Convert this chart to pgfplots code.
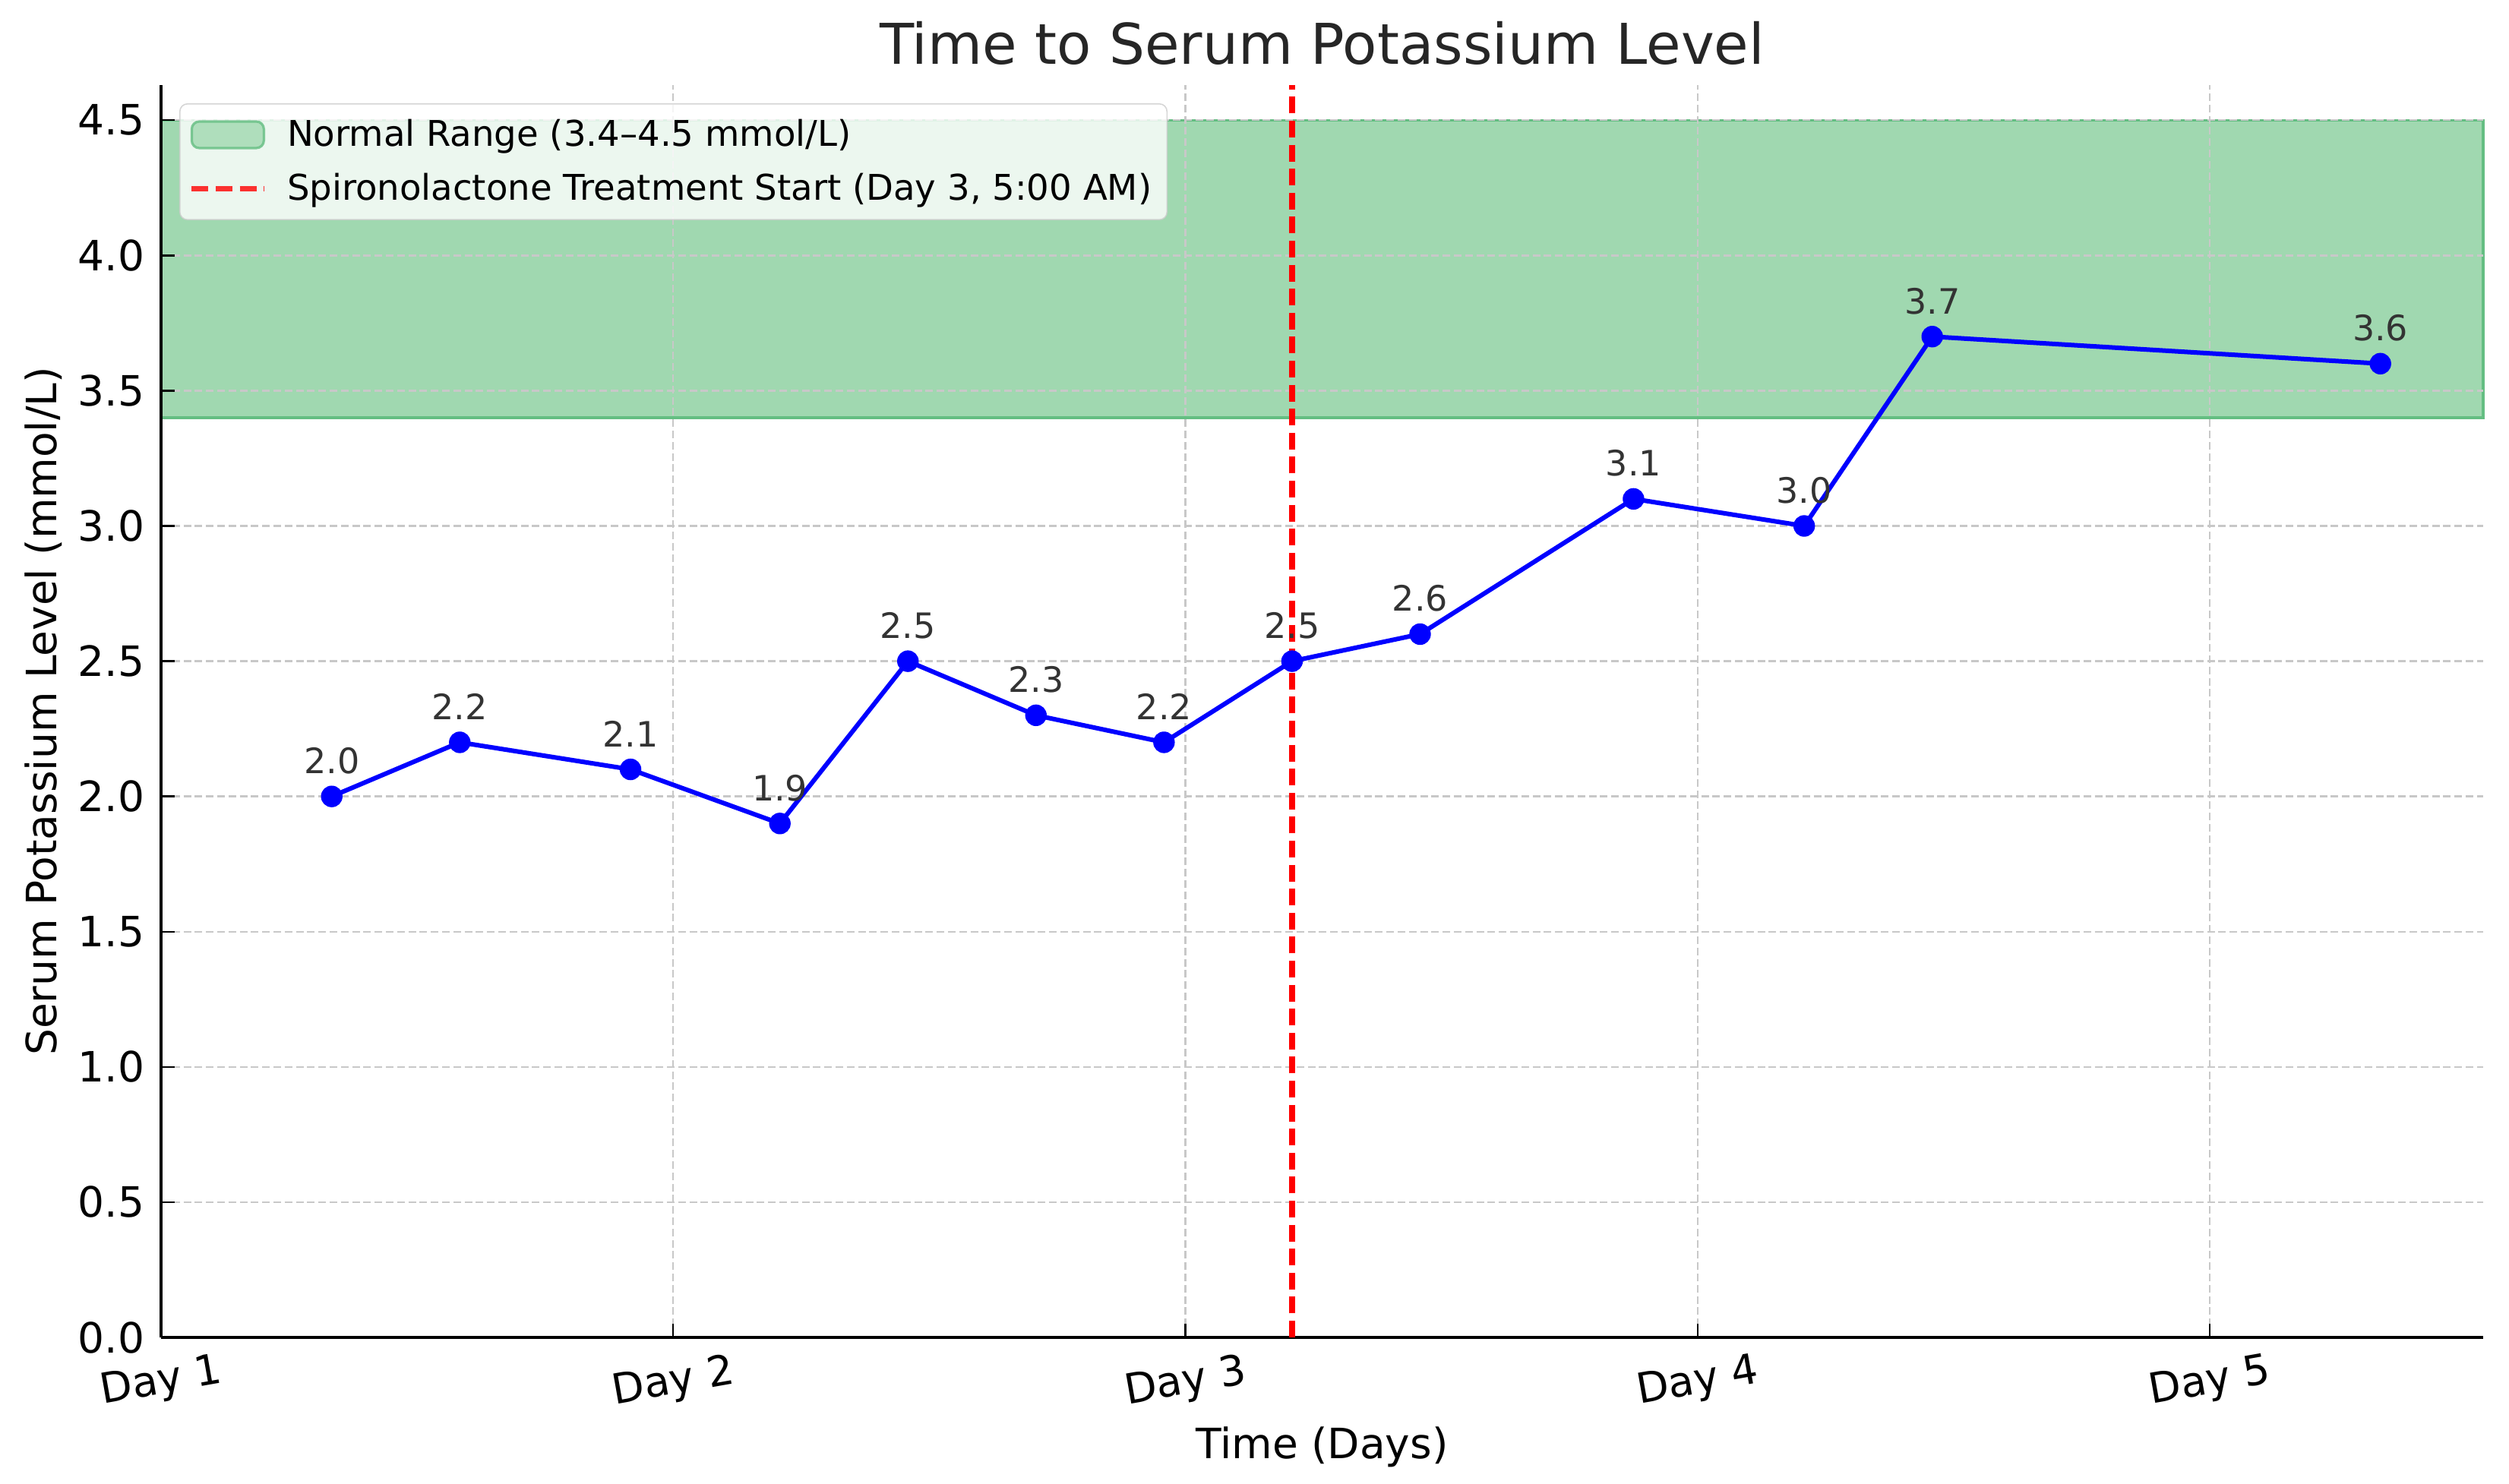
\documentclass[border=0pt]{standalone}
\usepackage{fontspec}
\setmainfont{DejaVu Sans}
\usepackage{pgfplots}
\pgfplotsset{compat=1.18}
\usepackage{pgfplotstable}
\definecolor{bandfill}{RGB}{160,216,176}
\definecolor{bandedge}{RGB}{100,190,130}
\definecolor{gridgray}{RGB}{200,200,200}
\pgfplotsset{
  bandleg/.style={legend image code/.code={\draw[##1] (0pt,-4.375pt) rectangle (23.75pt,4.375pt); \path (28.5pt,0pt);}},
  lineleg/.style={legend image code/.code={\draw[##1] (0pt,0pt) -- (23.75pt,0pt); \path (28.5pt,0pt);}},
}
\pgfplotstableread{
x y
1.3333 2.0
1.5833 2.2
1.9167 2.1
2.2083 1.9
2.4583 2.5
2.7083 2.3
2.9583 2.2
3.2083 2.5
3.4583 2.6
3.8750 3.1
4.2083 3.0
4.4583 3.7
5.3333 3.6
}\potassium
\begin{document}
\begin{tikzpicture}
\begin{axis}[
  set layers,
  scale only axis,
  width=764.25pt, height=412.25pt,
  xmin=1, xmax=5.534, ymin=0, ymax=4.63,
  axis x line*=bottom, axis y line*=left,
  axis line style={-, line width=1pt, black},
  xtick={1,2,3,4,5},
  xticklabels={Day 1,Day 2,Day 3,Day 4,Day 5},
  ytick={0,0.5,...,4.5},
  tick align=inside,
  major tick length=4.5pt,
  tick style={line width=0.6pt, black},
  xticklabel style={font=\fontsize{13.75}{16}\selectfont, rotate=10, anchor=north, inner sep=0pt, yshift=-8pt, xshift=-2.5pt},
  yticklabel style={font=\fontsize{13.75}{16}\selectfont, anchor=east, inner sep=0pt, xshift=-5.25pt,
    /pgf/number format/.cd, fixed, fixed zerofill, precision=1, assume math mode=true},
  grid=major,
  grid style={gridgray, line width=0.6pt, dash pattern=on 2.5pt off 1.2pt},
  every axis title shift=0pt,
  title={Time to Serum Potassium Level},
  title style={font=\fontsize{18.5}{22}\selectfont, text=black!85, at={(axis description cs:0.5,1.01637)}, anchor=base, inner sep=0pt},
  xlabel={Time (Days)},
  xlabel style={font=\fontsize{13.75}{16}\selectfont, at={(axis description cs:0.5,-0.09642)}, anchor=base, inner sep=0pt},
  ylabel={Serum Potassium Level (mmol/L)},
  ylabel style={font=\fontsize{13.75}{16}\selectfont, at={(axis description cs:-0.04482,0.5)}, anchor=base, rotate=0, inner sep=0pt},
  legend style={at={(0,1)}, anchor=north west, xshift=6pt, yshift=-6pt,
    font=\fontsize{11.65}{13.9}\selectfont,
    draw=black!20, fill=white, fill opacity=0.8, text opacity=1, draw opacity=0.8,
    rounded corners=2.5pt, inner xsep=3pt, inner ysep=3pt, row sep=3.4pt,
    nodes={inner sep=2pt}},
  legend cell align=left,
]
\addplot[on layer=axis background, fill=bandfill, draw=bandedge, line width=0.8pt, bandleg]
  coordinates {(1,3.4) (5.534,3.4) (5.534,4.5) (1,4.5)} -- cycle;
\addlegendentry{Normal Range (3.4–4.5 mmol/L)}
\addplot[red, line width=1.8pt, dash pattern=on 5.5pt off 2.4pt, lineleg]
  coordinates {(3.2083,0) (3.2083,4.63)};
\addlegendentry{Spironolactone Treatment Start (Day 3, 5:00 AM)}
\addplot[blue, line width=1.5pt, mark=*, mark size=3.3pt, mark options={solid, fill=blue, draw=blue, line width=0.5pt},
  forget plot,
  nodes near coords, point meta=explicit,
  nodes near coords style={anchor=base, yshift=7.5pt, inner sep=0pt, font=\fontsize{11.5}{13.8}\selectfont, text=black!80,
    /pgf/number format/.cd, fixed, fixed zerofill, precision=1, assume math mode=true}]
  table[x=x, y=y, meta=y] {\potassium};
\end{axis}
\pgfresetboundingbox
\path[use as bounding box] (-53pt,-48pt) rectangle (772.75pt,440.25pt);
\end{tikzpicture}
\end{document}
